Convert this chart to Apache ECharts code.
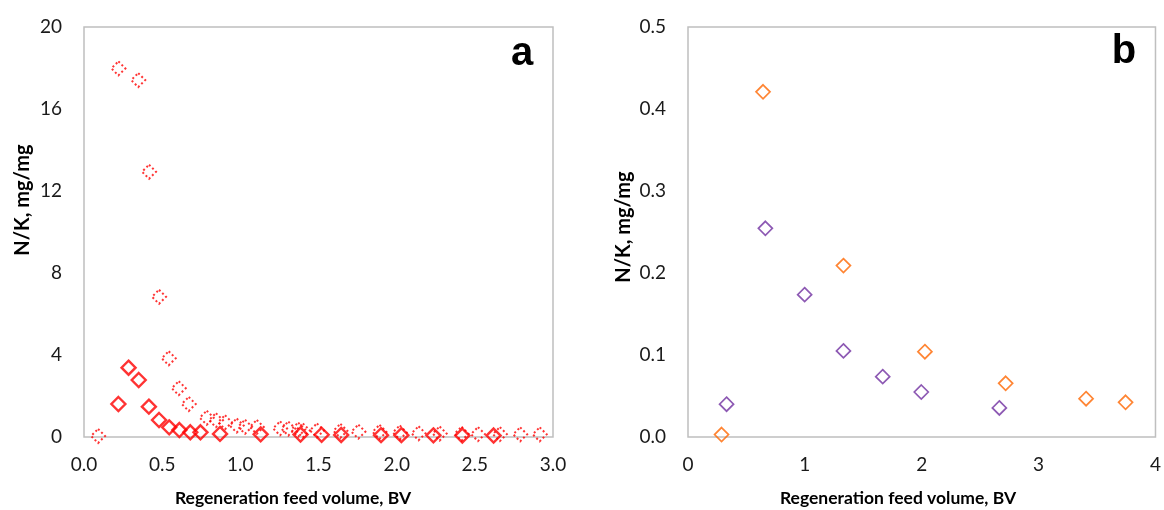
<!DOCTYPE html>
<html>
<head>
<meta charset="utf-8">
<script src="https://cdn.jsdelivr.net/npm/echarts@6/dist/echarts.min.js"></script>
<style>
html,body{margin:0;padding:0;background:#fff;}
#c{width:1164px;height:510px;}
</style>
</head>
<body>
<div id="c"></div>
<script>
// Panel a: solid diamonds
const aSolidX = [0.22, 0.285, 0.35, 0.415, 0.48, 0.545, 0.61, 0.68, 0.745, 0.87, 1.13, 1.385, 1.52, 1.645, 1.9, 2.03, 2.235, 2.42, 2.62];
const aSolidY = [1.61, 3.38, 2.78, 1.48, 0.83, 0.47, 0.34, 0.23, 0.23, 0.15, 0.13, 0.12, 0.11, 0.10, 0.09, 0.09, 0.08, 0.07, 0.07];
// Panel a: dotted diamonds
const aDotX = [0.09, 0.22, 0.347, 0.416, 0.48, 0.542, 0.606, 0.67, 0.785, 0.844, 0.902, 0.977, 1.03, 1.105, 1.254, 1.307, 1.37, 1.40, 1.49, 1.64, 1.755, 1.89, 2.02, 2.14, 2.275, 2.415, 2.52, 2.66, 2.79, 2.915];
const aDotY = [0.05, 17.98, 17.41, 12.94, 6.84, 3.84, 2.38, 1.61, 0.94, 0.82, 0.72, 0.56, 0.5, 0.49, 0.42, 0.41, 0.36, 0.32, 0.32, 0.3, 0.26, 0.25, 0.22, 0.18, 0.17, 0.16, 0.14, 0.14, 0.13, 0.13];
// Panel b
const bOrangeX = [0.287, 0.642, 1.33, 2.027, 2.718, 3.406, 3.744];
const bOrangeY = [0.003, 0.421, 0.209, 0.104, 0.0655, 0.0467, 0.0423];
const bPurpleX = [0.33, 0.662, 0.998, 1.33, 1.666, 1.996, 2.664];
const bPurpleY = [0.040, 0.2545, 0.1736, 0.105, 0.0736, 0.0549, 0.0354];
// Tick settings
const aXTicks = {min: 0, max: 3, interval: 0.5};
const aYTicks = {min: 0, max: 20, interval: 4};
const bXTicks = {min: 0, max: 4, interval: 1};
const bYTicks = {min: 0, max: 0.5, interval: 0.1};
const xTitle = 'Regeneration feed volume, BV';
const yTitle = 'N/K, mg/mg';

const zip = (xs, ys) => xs.map((x, i) => [x, ys[i]]);
const FONT = 'Lato';
const labelStyle = {fontFamily: FONT, fontSize: 19, color: '#1a1a1a'};

function xAxis(idx, t, dec) {
  return {
    type: 'value', gridIndex: idx, min: t.min, max: t.max, interval: t.interval,
    axisLine: {show: false}, axisTick: {show: false}, splitLine: {show: false},
    axisLabel: Object.assign({margin: 18, formatter: v => v.toFixed(dec)}, labelStyle)
  };
}
function yAxis(idx, t, dec) {
  return {
    type: 'value', gridIndex: idx, min: t.min, max: t.max, interval: t.interval,
    axisLine: {show: false}, axisTick: {show: false}, splitLine: {show: false},
    axisLabel: Object.assign({margin: 22, formatter: v => v.toFixed(dec)}, labelStyle)
  };
}

const chart = echarts.init(document.getElementById('c'));
chart.setOption({
  animation: false,
  backgroundColor: '#fff',
  grid: [
    {left: 84, top: 27, width: 469, height: 410, show: true, borderColor: '#BFBFBF', borderWidth: 1.5, backgroundColor: 'transparent'},
    {left: 688, top: 27, width: 469, height: 410, show: true, borderColor: '#BFBFBF', borderWidth: 1.5, backgroundColor: 'transparent'}
  ],
  xAxis: [xAxis(0, aXTicks, 1), xAxis(1, bXTicks, 0)],
  yAxis: [yAxis(0, aYTicks, 0), yAxis(1, bYTicks, 1)],
  series: [
    {type: 'scatter', xAxisIndex: 0, yAxisIndex: 0, data: zip(aDotX, aDotY), symbol: 'diamond', symbolSize: 14,
     itemStyle: {color: 'rgba(255,255,255,0)', borderColor: '#FF0000', borderWidth: 2, borderType: [2, 2.5]}},
    {type: 'scatter', xAxisIndex: 0, yAxisIndex: 0, data: zip(aSolidX, aSolidY), symbol: 'diamond', symbolSize: 14,
     itemStyle: {color: 'rgba(255,255,255,0)', borderColor: '#FF0000', borderWidth: 2.4}},
    {type: 'scatter', xAxisIndex: 1, yAxisIndex: 1, data: zip(bOrangeX, bOrangeY), symbol: 'diamond', symbolSize: 14,
     itemStyle: {color: 'rgba(255,255,255,0)', borderColor: '#FF6600', borderWidth: 1.7}},
    {type: 'scatter', xAxisIndex: 1, yAxisIndex: 1, data: zip(bPurpleX, bPurpleY), symbol: 'diamond', symbolSize: 14,
     itemStyle: {color: 'rgba(255,255,255,0)', borderColor: '#7030A0', borderWidth: 1.7}}
  ],
  graphic: [
    {type: 'text', x: 293, y: 498, style: {text: xTitle, font: 'bold 17.5px Lato', fill: '#000', textAlign: 'center', textVerticalAlign: 'middle'}},
    {type: 'text', x: 898, y: 498, style: {text: xTitle, font: 'bold 17.5px Lato', fill: '#000', textAlign: 'center', textVerticalAlign: 'middle'}},
    {type: 'text', x: 23, y: 200, rotation: Math.PI / 2, style: {text: yTitle, font: 'bold 20px Lato', fill: '#000', textAlign: 'center', textVerticalAlign: 'middle'}},
    {type: 'text', x: 624, y: 227, rotation: Math.PI / 2, style: {text: yTitle, font: 'bold 20px Lato', fill: '#000', textAlign: 'center', textVerticalAlign: 'middle'}},
    {type: 'text', x: 522, y: 54, style: {text: 'a', font: 'bold 40px "Liberation Sans"', fill: '#000', textAlign: 'center', textVerticalAlign: 'middle'}},
    {type: 'text', x: 1124, y: 52, style: {text: 'b', font: 'bold 40px "Liberation Sans"', fill: '#000', textAlign: 'center', textVerticalAlign: 'middle'}}
  ]
});
</script>
</body>
</html>
